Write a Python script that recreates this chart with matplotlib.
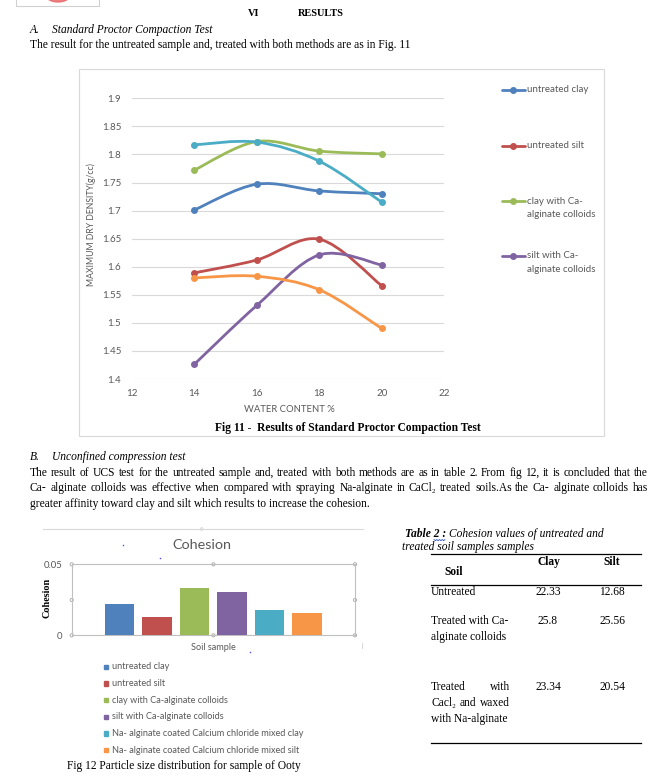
import numpy as np
import matplotlib
matplotlib.use("Agg")
import matplotlib.pyplot as plt
from matplotlib.path import Path
from matplotlib.patches import PathPatch, Rectangle, Ellipse, Circle

W, H = 663, 777
SERIF = 'Liberation Serif'
SERIF_FB = ['Liberation Serif', 'DejaVu Serif']
SANS = 'Lato'
GRAY = '#595959'

# ---------------- data ----------------
water_content = [14, 16, 18, 20]
untreated_clay = [1.701, 1.747, 1.735, 1.730]
untreated_silt = [1.589, 1.612, 1.649, 1.566]
clay_ca_alginate = [1.772, 1.823, 1.806, 1.801]
silt_ca_alginate = [1.426, 1.531, 1.621, 1.603]
na_alginate_clay = [1.817, 1.822, 1.788, 1.715]
na_alginate_silt = [1.580, 1.583, 1.559, 1.490]

series_names = ["untreated clay", "untreated silt",
                "clay with Ca-alginate colloids", "silt with Ca-alginate colloids",
                "Na- alginate coated Calcium chloride mixed clay",
                "Na- alginate coated Calcium chloride mixed silt"]
series_colors = ['#4F81BD', '#C0504D', '#9BBB59', '#8064A2', '#4BACC6', '#F79646']

x_ticks = [12, 14, 16, 18, 20, 22]
y_ticks = [1.4, 1.45, 1.5, 1.55, 1.6, 1.65, 1.7, 1.75, 1.8, 1.85, 1.9]
y_tick_labels = ['1.4', '1.45', '1.5', '1.55', '1.6', '1.65', '1.7', '1.75', '1.8', '1.85', '1.9']
main_legend_labels = ["untreated clay", "untreated silt",
                      "clay with Ca-\nalginate colloids", "silt with Ca-\nalginate colloids"]

cohesion_values = [0.0223, 0.0129, 0.0331, 0.0308, 0.0178, 0.0155]
cohesion_ticks = [0, 0.05]
cohesion_tick_labels = ['0', '0.05']

table_header = ["Soil", "Clay", "Silt"]
table_soil = ["Untreated", "Treated with Ca-\nalginate colloids",
              "Treated with\nCacl\u2082 and waxed\nwith Na-alginate"]
table_clay = ["22.33", "25.8", "23.34"]
table_silt = ["12.68", "25.56", "20.54"]

# ---------------- figure / page ----------------
fig = plt.figure(figsize=(W / 100, H / 100), dpi=100)
page = fig.add_axes([0, 0, 1, 1])
page.set_xlim(0, W)
page.set_ylim(H, 0)
page.axis('off')
renderer = fig.canvas.get_renderer()


def px_axes(l, t, r, b):
    return fig.add_axes([l / W, 1 - b / H, (r - l) / W, (b - t) / H])


def text_width(s, **kw):
    t = page.text(0, 0, s, **kw)
    w = t.get_window_extent(renderer).width
    t.remove()
    return w


def justify(line, x0, x1, yb, **kw):
    """Justified line, one text per word, on an integer-pixel baseline."""
    words = line.split()
    ws = [text_width(w, **kw) for w in words]
    gap = (x1 - x0 - sum(ws)) / max(len(words) - 1, 1)
    yb = round(yb)
    x = x0
    for w, wd in zip(words, ws):
        page.text(x, yb, w, ha='left', va='baseline', **kw)
        x += wd + gap


BODY = dict(family=SERIF, fontsize=8.3, color='black')
BODY_FB = dict(family=SERIF_FB, fontsize=8.3, color='black')

# top-left clipped image remnant
page.add_patch(Rectangle((15.5, -2), 83.5, 7.5, fill=False, ec='#D0D0D0', lw=0.8))
page.add_patch(Ellipse((58, -3.5), 22, 11, color='#E86A6A', alpha=0.85, clip_on=True))

# heading
page.text(248, 14, "VI", ha='left', va='center', family=SERIF, fontsize=7.4, weight='bold')
page.text(298, 14, "RESULTS", ha='left', va='center', family=SERIF, fontsize=7.4, weight='bold')
page.text(30, 30, "A.", ha='left', va='center', style='italic', **BODY)
page.text(51.5, 30, "Standard Proctor Compaction Test", ha='left', va='center', style='italic', **BODY)
page.text(30, 45, "The result for the untreated sample and, treated with both methods are as in Fig. 11",
          ha='left', va='center', **BODY)

# main chart frame
page.add_patch(Rectangle((78.5, 69), 525.5, 367, fill=False, ec='#D9D9D9', lw=0.8))

# ---------------- main line chart ----------------
ax = px_axes(131.7, 98.3, 444.3, 379)
ax.set_xlim(12, 22)
ax.set_ylim(1.4, 1.9)
for s in ax.spines.values():
    s.set_visible(False)
ax.set_xticks(x_ticks)
ax.set_xticklabels([str(v) for v in x_ticks])
ax.set_yticks(y_ticks)
ax.set_yticklabels(y_tick_labels)
ax.tick_params(length=0, labelsize=7.0, labelcolor=GRAY, pad=7.5)
for lab in ax.get_xticklabels() + ax.get_yticklabels():
    lab.set_family(SANS)
ax.yaxis.grid(True, color='#D9D9D9', lw=0.8)
ax.set_axisbelow(True)
ax.patch.set_alpha(0)


def smooth_path(xs, ys):
    P = np.column_stack([xs, ys]).astype(float)
    n = len(P)
    verts = [P[0]]
    codes = [Path.MOVETO]
    for i in range(n - 1):
        p0 = P[i - 1] if i > 0 else P[i]
        p3 = P[i + 2] if i + 2 < n else P[i + 1]
        c1 = P[i] + (P[i + 1] - p0) / 6.0
        c2 = P[i + 1] - (p3 - P[i]) / 6.0
        verts += [c1, c2, P[i + 1]]
        codes += [Path.CURVE4] * 3
    return Path(verts, codes)


all_series = [untreated_clay, untreated_silt, clay_ca_alginate,
              silt_ca_alginate, na_alginate_clay, na_alginate_silt]
for k, (vals, col) in enumerate(zip(all_series, series_colors)):
    ax.add_patch(PathPatch(smooth_path(water_content, vals), fill=False, ec=col,
                           lw=2.0, capstyle='round', joinstyle='round', zorder=3 + k))
    ax.plot(water_content, vals, 'o', color=col, ms=4.0, zorder=3 + k, clip_on=False)

page.text(91.7, 225, "MAXIMUM DRY DENSITY(g/cc)", rotation=90, ha='center', va='center',
          family=SANS, fontsize=6.2, color=GRAY)
page.text(289, 409, "WATER CONTENT %", ha='center', va='center', family=SANS, fontsize=6.8, color=GRAY)

# main legend
leg_y = [90, 145.7, 201, 256]
for lab, col, y in zip(main_legend_labels, series_colors, leg_y):
    page.plot([501.7, 525], [y, y], color=col, lw=2.0, solid_capstyle='round')
    page.plot([513.3], [y], 'o', color=col, ms=4.0)
    for j, part in enumerate(lab.split('\n')):
        page.text(527.3, y + j * 13.8, part, ha='left', va='center', family=SANS,
                  fontsize=7.0, color=GRAY)

page.text(348, 428, "Fig 11 -  Results of Standard Proctor Compaction Test", ha='center', va='center',
          weight='bold', **BODY)

# ---------------- section B text ----------------
page.text(30, 457, "B.", ha='left', va='center', style='italic', **BODY)
page.text(51.5, 457, "Unconfined compression test", ha='left', va='center', style='italic', **BODY)
justify("The result of UCS test for the untreated sample and, treated with both methods are as in "
        "table 2. From fig 12, it is concluded that the", 30, 648, 476, **BODY_FB)
justify("Ca- alginate colloids was effective when compared with spraying Na-alginate in CaCl\u2082 "
        "treated soils.As the Ca- alginate colloids has", 30, 648, 491, **BODY_FB)
page.text(30, 507, "greater affinity toward clay and silt which results to increase the cohesion.",
          ha='left', va='baseline', **BODY)

# ---------------- bar chart ----------------
page.plot([43, 363], [529, 529], color='#D9D9D9', lw=0.8)
page.add_patch(Circle((201.7, 529), 1.3, fc='white', ec='#D0D0D0', lw=0.6))
page.plot([362, 362], [643, 648], color='#D0D0D0', lw=0.6)
page.text(201.7, 545, "Cohesion", ha='center', va='center', family=SANS, fontsize=10.4, color=GRAY)

bx = px_axes(71.7, 564.3, 355, 635.3)
pos = np.arange(len(cohesion_values))
bx.bar(pos, cohesion_values, width=0.78, color=series_colors, zorder=3)
bx.set_xlim(2.5 - 3.777, 2.5 + 3.777)
bx.set_ylim(0, 0.05)
bx.set_xticks([])
bx.set_yticks(cohesion_ticks)
bx.set_yticklabels(cohesion_tick_labels)
bx.tick_params(length=0, labelsize=6.8, labelcolor=GRAY, pad=6.5)
for lab in bx.get_yticklabels():
    lab.set_family(SANS)
for s in bx.spines.values():
    s.set_color('#BFBFBF')
    s.set_linewidth(0.8)
bx.patch.set_alpha(0)

# selection handles of the plot area
for hx in (71.7, 213.4, 355):
    for hy in (564.3, 600, 635.3):
        if hx == 213.4 and hy == 600:
            continue
        page.add_patch(Circle((hx, hy), 1.6, fc='white', ec='#A6A6A6', lw=0.6, zorder=10))

# stray blue marks
page.plot([123.3, 160, 250], [545, 557.7, 651.7], 's', color='#5050FF', ms=1.0, mew=0)

page.text(46.7, 598, "Cohesion", rotation=90, ha='center', va='center', family=SERIF,
          fontsize=7.3, weight='bold')
page.text(213, 648, "Soil sample", ha='center', va='center', family=SANS, fontsize=6.6, color=GRAY)

for k, (name, col) in enumerate(zip(series_names, series_colors)):
    y = 666.7 + k * 16.67
    page.add_patch(Rectangle((104, y - 2.2), 4.4, 4.4, color=col))
    page.text(111.7, y, name, ha='left', va='center', family=SANS, fontsize=6.6, color=GRAY)

page.text(66.7, 766.5, "Fig 12 Particle size distribution for sample of Ooty", ha='left', va='center', **BODY)

# ---------------- table ----------------
page.text(405, 534, "Table 2 : ", ha='left', va='center', family=SERIF, fontsize=8.3,
          weight='bold', style='italic')
tw = text_width("Table 2 : ", family=SERIF, fontsize=8.3, weight='bold', style='italic')
page.text(405 + tw, 534, "Cohesion values of untreated and", ha='left', va='center',
          family=SERIF, fontsize=8.3, style='italic')
page.text(402.3, 546.7, "treated soil samples samples", ha='left', va='center',
          family=SERIF, fontsize=8.3, style='italic')
zx = np.linspace(434, 445, 9)
zy = 539.5 + np.array([0, 1, 0, 1, 0, 1, 0, 1, 0]) * 1.2
page.plot(zx, zy, color='#3355CC', lw=0.6)

for yy in (554.3, 585.3, 742.7):
    page.plot([431, 641], [yy, yy], color='black', lw=0.9)

page.text(444.3, 572.3, table_header[0], ha='left', va='center', weight='bold', **BODY)
page.text(549, 561.7, table_header[1], ha='center', va='center', weight='bold', **BODY)
page.text(611.5, 561.7, table_header[2], ha='center', va='center', weight='bold', **BODY)

row_y = [591.7, 620.7, 686.7]
for r, (soil, c, s) in enumerate(zip(table_soil, table_clay, table_silt)):
    y = row_y[r]
    page.text(548, y, c, ha='center', va='center', **BODY)
    page.text(612, y, s, ha='center', va='center', **BODY)
    parts = soil.split('\n')
    for j, part in enumerate(parts):
        yy = y + j * 16
        if r == 2 and j < 2:
            justify(part, 431, 510, yy + 3.5, **BODY_FB)
        else:
            page.text(431, yy, part, ha='left', va='center', **BODY)

fig.savefig("out.png", dpi=100)
